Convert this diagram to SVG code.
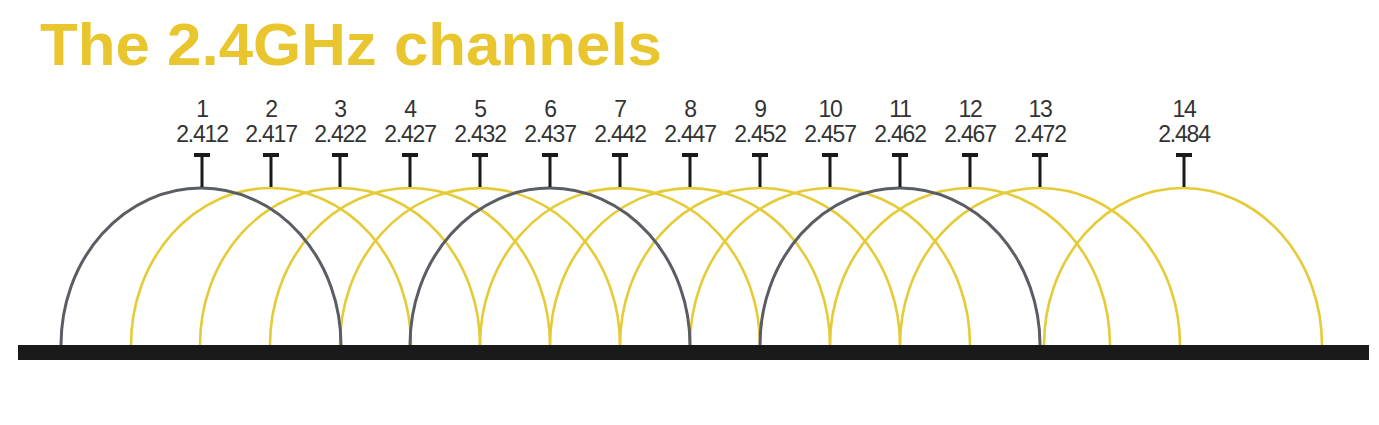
<svg xmlns="http://www.w3.org/2000/svg" width="1379" height="425" viewBox="0 0 1379 425">
  <style>
    .title { font-family: "Liberation Sans", Arial, sans-serif; font-weight: bold; font-size: 60px; fill: #E9C52E; }
    .lbl { font-family: "Liberation Sans", Arial, sans-serif; font-size: 23px; fill: #333333; text-anchor: middle; letter-spacing: -1.2px; }
    .arc { fill: none; stroke-width: 2.6; }
    .y { stroke: #E6CB38; }
    .g { stroke: #5A5D63; stroke-width: 3; }
    .stem { stroke: #1a1a1a; stroke-width: 3; }
    .bar { stroke: #1a1a1a; stroke-width: 4; }
  </style>
  <rect width="1379" height="425" fill="#ffffff"/>
  <text class="title" x="40" y="65" textLength="622" lengthAdjust="spacingAndGlyphs">The 2.4GHz channels</text>

  <g id="connectors">
    <path class="arc y" d="M131 345 A140 157 0 0 1 411 345"/>
    <path class="arc y" d="M200 345 A140 157 0 0 1 480 345"/>
    <path class="arc y" d="M270 345 A140 157 0 0 1 550 345"/>
    <path class="arc y" d="M340 345 A140 157 0 0 1 620 345"/>
    <path class="arc y" d="M480 345 A140 157 0 0 1 760 345"/>
    <path class="arc y" d="M550 345 A140 157 0 0 1 830 345"/>
    <path class="arc y" d="M620 345 A140 157 0 0 1 900 345"/>
    <path class="arc y" d="M690 345 A140 157 0 0 1 970 345"/>
    <path class="arc y" d="M830 345 A140 157 0 0 1 1110 345"/>
    <path class="arc y" d="M900 345 A140 157 0 0 1 1180 345"/>
    <path class="arc y" d="M1044 345 A139 157 0 0 1 1322 345"/>
    <path class="arc g" d="M61 345 A140 157 0 0 1 341 345"/>
    <path class="arc g" d="M410 345 A140 157 0 0 1 690 345"/>
    <path class="arc g" d="M760 345 A140 157 0 0 1 1040 345"/>
  </g>

  <rect id="baseline" x="18" y="345" width="1351" height="15" fill="#1a1a1a"/>

  <g id="ch1"><text class="lbl" x="202" y="117">1</text><text class="lbl" x="202" y="142">2.412</text><line class="stem" x1="202" y1="155" x2="202" y2="187"/><line class="bar" x1="194" y1="155" x2="210" y2="155"/></g>
  <g id="ch2"><text class="lbl" x="271" y="117">2</text><text class="lbl" x="271" y="142">2.417</text><line class="stem" x1="271" y1="155" x2="271" y2="187"/><line class="bar" x1="263" y1="155" x2="279" y2="155"/></g>
  <g id="ch3"><text class="lbl" x="340" y="117">3</text><text class="lbl" x="340" y="142">2.422</text><line class="stem" x1="340" y1="155" x2="340" y2="187"/><line class="bar" x1="332" y1="155" x2="348" y2="155"/></g>
  <g id="ch4"><text class="lbl" x="410" y="117">4</text><text class="lbl" x="410" y="142">2.427</text><line class="stem" x1="410" y1="155" x2="410" y2="187"/><line class="bar" x1="402" y1="155" x2="418" y2="155"/></g>
  <g id="ch5"><text class="lbl" x="480" y="117">5</text><text class="lbl" x="480" y="142">2.432</text><line class="stem" x1="480" y1="155" x2="480" y2="187"/><line class="bar" x1="472" y1="155" x2="488" y2="155"/></g>
  <g id="ch6"><text class="lbl" x="550" y="117">6</text><text class="lbl" x="550" y="142">2.437</text><line class="stem" x1="550" y1="155" x2="550" y2="187"/><line class="bar" x1="542" y1="155" x2="558" y2="155"/></g>
  <g id="ch7"><text class="lbl" x="620" y="117">7</text><text class="lbl" x="620" y="142">2.442</text><line class="stem" x1="620" y1="155" x2="620" y2="187"/><line class="bar" x1="612" y1="155" x2="628" y2="155"/></g>
  <g id="ch8"><text class="lbl" x="690" y="117">8</text><text class="lbl" x="690" y="142">2.447</text><line class="stem" x1="690" y1="155" x2="690" y2="187"/><line class="bar" x1="682" y1="155" x2="698" y2="155"/></g>
  <g id="ch9"><text class="lbl" x="760" y="117">9</text><text class="lbl" x="760" y="142">2.452</text><line class="stem" x1="760" y1="155" x2="760" y2="187"/><line class="bar" x1="752" y1="155" x2="768" y2="155"/></g>
  <g id="ch10"><text class="lbl" x="830" y="117">10</text><text class="lbl" x="830" y="142">2.457</text><line class="stem" x1="830" y1="155" x2="830" y2="187"/><line class="bar" x1="822" y1="155" x2="838" y2="155"/></g>
  <g id="ch11"><text class="lbl" x="900" y="117">11</text><text class="lbl" x="900" y="142">2.462</text><line class="stem" x1="900" y1="155" x2="900" y2="187"/><line class="bar" x1="892" y1="155" x2="908" y2="155"/></g>
  <g id="ch12"><text class="lbl" x="970" y="117">12</text><text class="lbl" x="970" y="142">2.467</text><line class="stem" x1="970" y1="155" x2="970" y2="187"/><line class="bar" x1="962" y1="155" x2="978" y2="155"/></g>
  <g id="ch13"><text class="lbl" x="1040" y="117">13</text><text class="lbl" x="1040" y="142">2.472</text><line class="stem" x1="1040" y1="155" x2="1040" y2="187"/><line class="bar" x1="1032" y1="155" x2="1048" y2="155"/></g>
  <g id="ch14"><text class="lbl" x="1184" y="117">14</text><text class="lbl" x="1184" y="142">2.484</text><line class="stem" x1="1184" y1="155" x2="1184" y2="187"/><line class="bar" x1="1176" y1="155" x2="1192" y2="155"/></g>
</svg>
